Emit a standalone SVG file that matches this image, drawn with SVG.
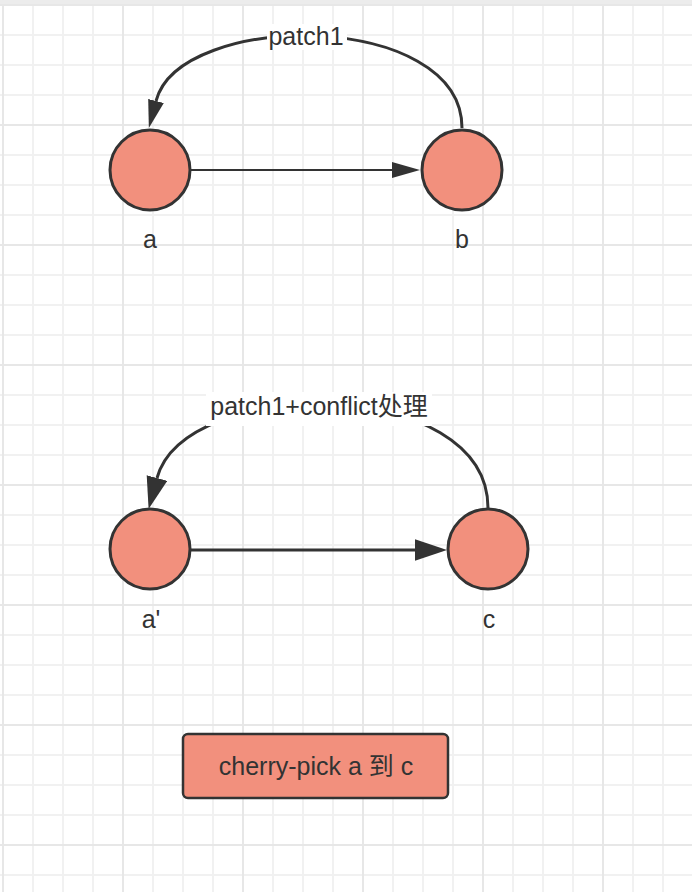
<svg xmlns="http://www.w3.org/2000/svg" width="692" height="892" viewBox="0 0 692 892">
<defs>
<style>
.node{fill:#f2907d;stroke:#333;stroke-width:3}
.lbl{font-family:"Liberation Sans","Noto Sans CJK SC",sans-serif;font-size:25px;fill:#333;text-anchor:middle}
.edge{fill:none;stroke:#333}
.bg{fill:#fff}
</style>
<pattern id="grid" patternUnits="userSpaceOnUse" x="0" y="0" width="120" height="120">
<rect width="120" height="120" fill="#fff"/>
<g stroke="#f1f1f1" stroke-width="2">
<line x1="33" y1="0" x2="33" y2="120"/><line x1="63" y1="0" x2="63" y2="120"/><line x1="93" y1="0" x2="93" y2="120"/>
<line x1="0" y1="35" x2="120" y2="35"/><line x1="0" y1="65" x2="120" y2="65"/><line x1="0" y1="95" x2="120" y2="95"/>
</g>
<g stroke="#e7e7e7" stroke-width="2">
<line x1="3" y1="0" x2="3" y2="120"/><line x1="0" y1="5" x2="120" y2="5"/>
</g>
</pattern>
<marker id="arrS" markerUnits="userSpaceOnUse" markerWidth="28" markerHeight="18" viewBox="0 0 26 16" refX="0" refY="8" orient="auto">
<path d="M0,0.5 L26,8 L0,15.5 Z" fill="#333"/>
</marker>
<marker id="arrL" markerUnits="userSpaceOnUse" markerWidth="32" markerHeight="22" viewBox="0 0 30 20" refX="0" refY="10" orient="auto">
<path d="M0,0 L30,10 L0,20 Z" fill="#333"/>
</marker>
</defs>
<rect width="692" height="892" fill="url(#grid)"/>
<rect width="692" height="4" fill="#ececec"/>
<g id="connectors">
<line class="edge" x1="191" y1="170" x2="392" y2="170" stroke-width="2" marker-end="url(#arrS)"/>
<path class="edge" d="M462 128 C462 10 180 10 156 101" stroke-width="3" marker-end="url(#arrS)"/>
<line class="edge" x1="191" y1="550" x2="415" y2="550" stroke-width="3" marker-end="url(#arrL)"/>
<path class="edge" d="M488 508 C488 375 185 375 157 478" stroke-width="3" marker-end="url(#arrL)"/>
<g id="label-patch1">
<rect class="bg" x="267" y="24" width="80" height="26"/>
<text class="lbl" x="306" y="45">patch1</text>
</g>
<g id="label-patch1-conflict">
<rect class="bg" x="206" y="392" width="226" height="34"/>
<text class="lbl" x="319" y="415">patch1+conflict处理</text>
</g>
</g>
<g id="node-a">
<circle class="node" cx="150" cy="170" r="40"/>
<text class="lbl" x="150" y="248">a</text>
</g>
<g id="node-b">
<circle class="node" cx="462" cy="170" r="40"/>
<text class="lbl" x="462" y="248">b</text>
</g>
<g id="node-a-prime">
<circle class="node" cx="150" cy="549" r="40"/>
<text class="lbl" x="151" y="628">a'</text>
</g>
<g id="node-c">
<circle class="node" cx="488" cy="549" r="40"/>
<text class="lbl" x="489" y="628">c</text>
</g>
<g id="node-cherry-pick">
<rect x="183" y="734" width="265" height="64" rx="5" fill="#f2907d" stroke="#333" stroke-width="2.5"/>
<text class="lbl" x="316" y="775">cherry-pick a 到 c</text>
</g>
</svg>
